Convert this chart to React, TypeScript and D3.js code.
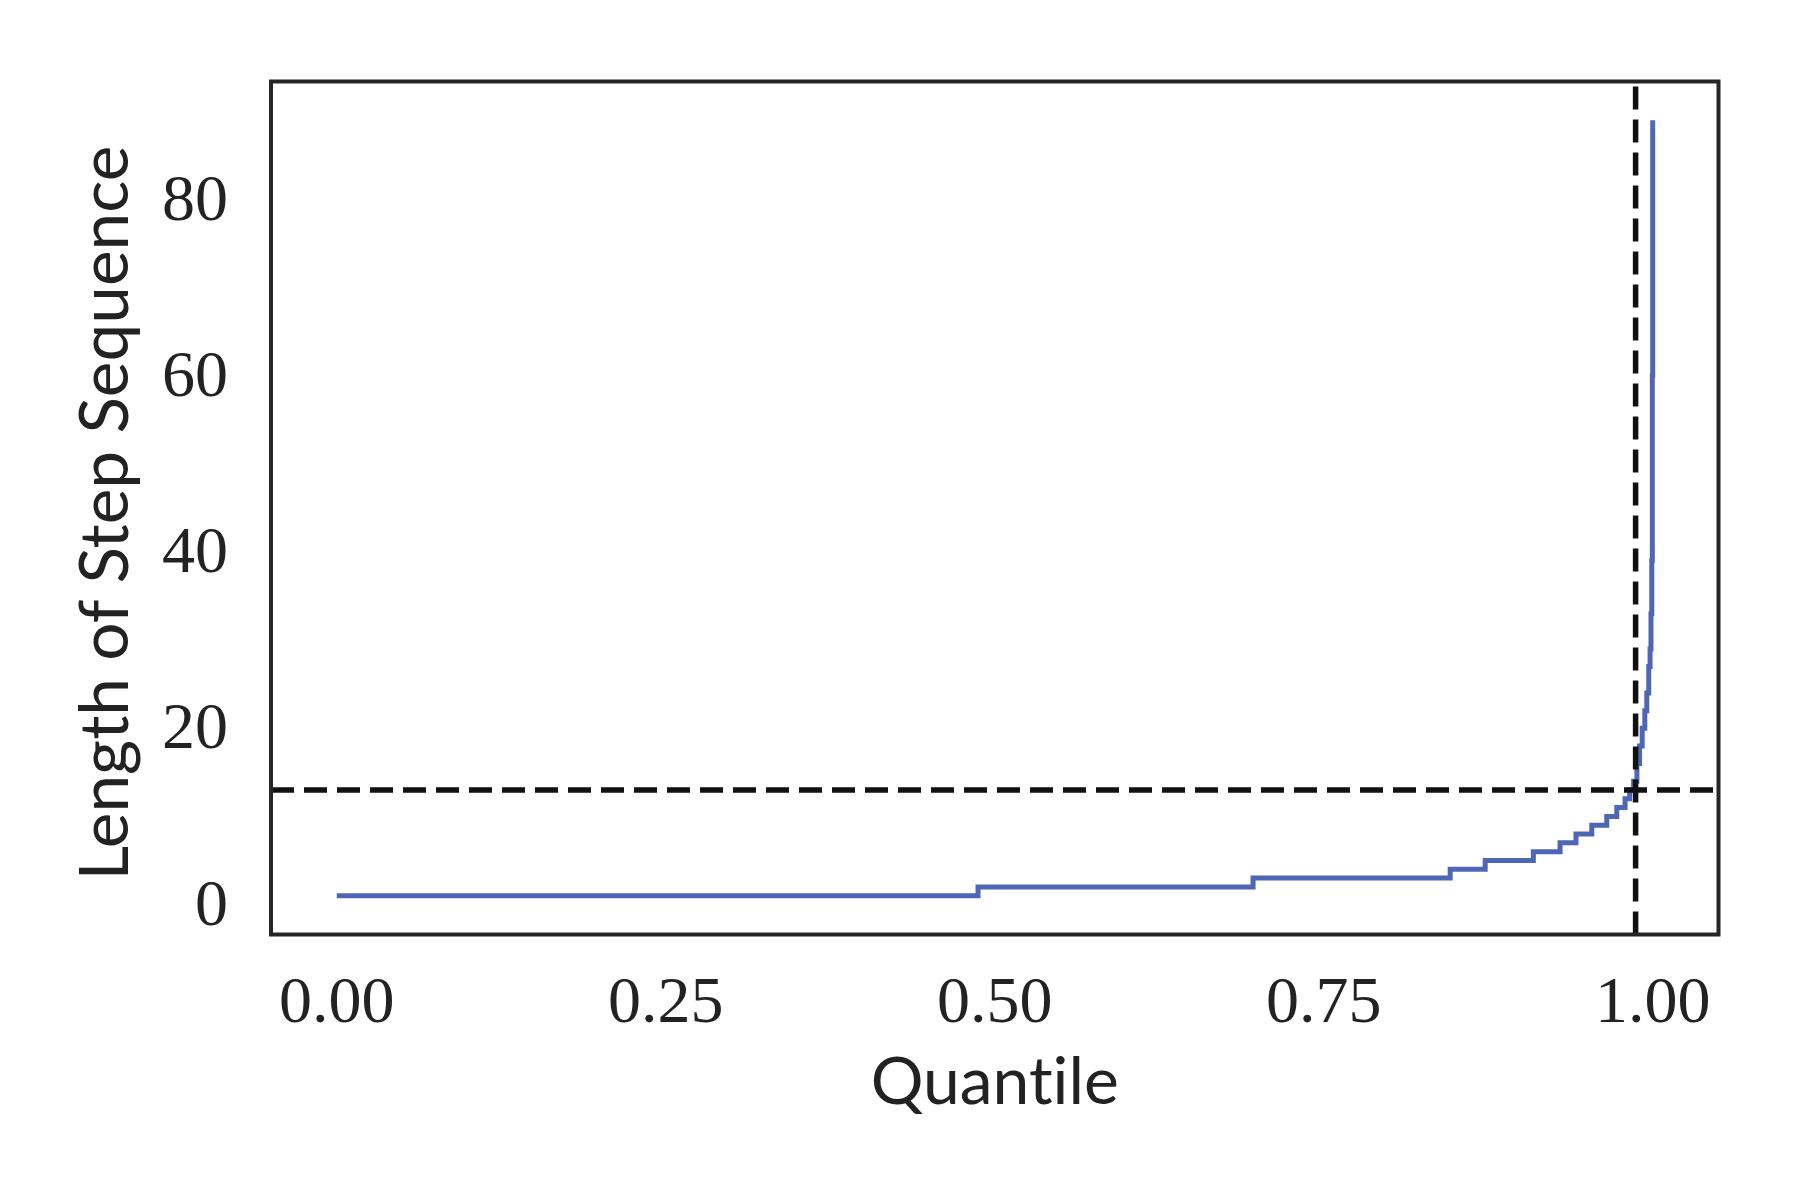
import React from "react";
import * as d3 from "d3";

// Data
const stepQuantiles = [0, 0.4873, 0.6963, 0.8461, 0.8727, 0.9093, 0.9296, 0.9417, 0.9537, 0.9651, 0.9727, 0.979, 0.9825, 0.9855, 0.988, 0.99, 0.992, 0.994, 0.9955, 0.997, 0.998, 0.9987, 0.9993, 0.9997, 1.0];
const stepLengths = [1, 2, 3, 4, 5, 6, 7, 8, 9, 10, 11, 12, 13, 14, 16, 18, 20, 22, 24, 27, 29, 33, 39, 60, 89];
const xTicks = [0, 0.25, 0.5, 0.75, 1.0];
const yTicks = [0, 20, 40, 60, 80];
const cutQuantile = 0.987;
const cutLength = 13;

const W = 1800;
const H = 1200;
const left = 271;
const right = 1718.5;
const top = 81.5;
const bottom = 934.5;

export default function App() {
  const x = d3.scaleLinear().domain([-0.05, 1.05]).range([left, right]);
  const y = d3.scaleLinear().domain([-3.4, 93.4]).range([bottom, top]);
  const pts: [number, number][] = stepQuantiles.map((q, i) => [q, stepLengths[i]]);
  const line = d3
    .line<[number, number]>()
    .x((d) => x(d[0]))
    .y((d) => y(d[1]))
    .curve(d3.curveStepAfter);
  const serif = "'Liberation Serif', 'DejaVu Serif', serif";
  const sans = "Lato, 'Open Sans', sans-serif";
  const noLig = { fontVariantLigatures: "none", fontFeatureSettings: "'liga' 0, 'clig' 0" } as React.CSSProperties;
  return (
    <svg
      width={W}
      height={H}
      style={{ position: "absolute", left: 0, top: 0, display: "block", background: "#fff" }}
    >
      <defs>
        <clipPath id="plotclip">
          <rect x={left} y={top} width={right - left} height={bottom - top} />
        </clipPath>
      </defs>
      <g clipPath="url(#plotclip)">
        <path d={line(pts) || ""} fill="none" stroke="#4f66b6" strokeWidth={5} strokeLinejoin="miter" />
        <line
          x1={left}
          x2={right}
          y1={y(cutLength)}
          y2={y(cutLength)}
          stroke="#111"
          strokeWidth={5.5}
          strokeDasharray="23 10"
        />
        <line
          x1={x(cutQuantile)}
          x2={x(cutQuantile)}
          y1={bottom}
          y2={top}
          stroke="#111"
          strokeWidth={5.5}
          strokeDasharray="23 10"
        />
      </g>
      <rect
        x={left}
        y={top}
        width={right - left}
        height={bottom - top}
        fill="none"
        stroke="#262626"
        strokeWidth={4}
      />
      {xTicks.map((t) => (
        <text
          key={"x" + t}
          x={x(t)}
          y={1022}
          textAnchor="middle"
          fontFamily={serif}
          fontSize={66}
          fill="#222"
        >
          {t.toFixed(2)}
        </text>
      ))}
      {yTicks.map((t) => (
        <text
          key={"y" + t}
          x={228}
          y={y(t) + 20}
          textAnchor="end"
          fontFamily={serif}
          fontSize={66}
          fill="#222"
        >
          {t}
        </text>
      ))}
      <text
        x={(left + right) / 2}
        y={1104}
        textAnchor="middle"
        fontFamily={sans}
        fontSize={66}
        fill="#222"
        style={noLig}
      >
        Quantile
      </text>
      <text
        transform={`translate(128, ${513}) rotate(-90)`}
        textAnchor="middle"
        fontFamily={sans}
        fontSize={67.5}
        fill="#222"
        style={noLig}
      >
        Length of Step Sequence
      </text>
    </svg>
  );
}
